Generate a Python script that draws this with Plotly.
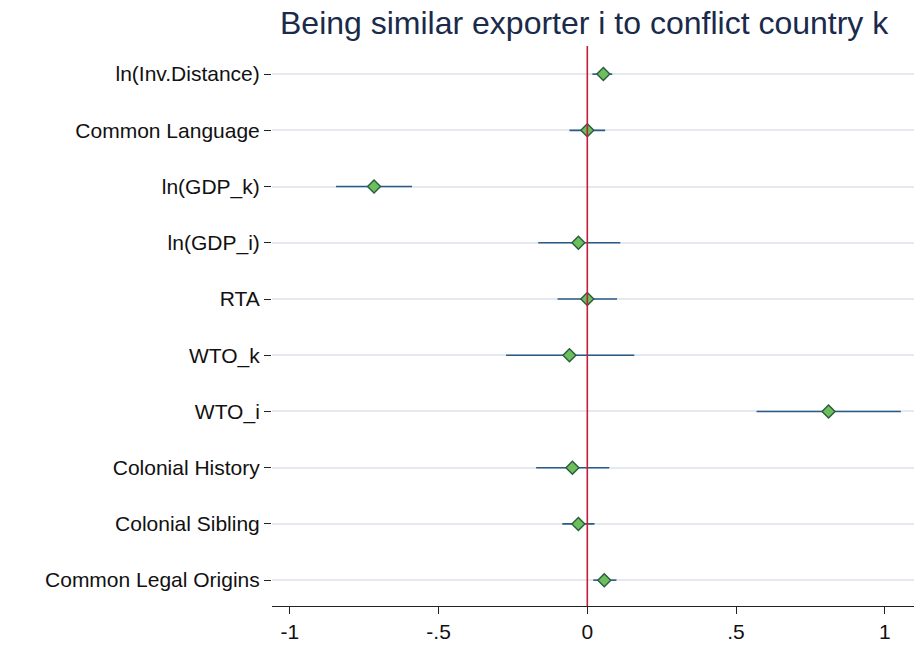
import plotly.graph_objects as go

labels = ["ln(Inv.Distance)", "Common Language", "ln(GDP_k)", "ln(GDP_i)", "RTA",
          "WTO_k", "WTO_i", "Colonial History", "Colonial Sibling", "Common Legal Origins"]
coef = [0.054, 0.0, -0.717, -0.03, 0.0, -0.06, 0.811, -0.05, -0.03, 0.057]
lo = [0.017, -0.06, -0.845, -0.165, -0.10, -0.273, 0.569, -0.172, -0.084, 0.02]
hi = [0.084, 0.06, -0.589, 0.111, 0.10, 0.158, 1.054, 0.074, 0.024, 0.098]
xticks = [-1, -0.5, 0, 0.5, 1]
xticklabels = ["-1", "-.5", "0", ".5", "1"]

fig = go.Figure()
for i, lab in enumerate(labels):
    fig.add_trace(go.Scatter(x=[lo[i], hi[i]], y=[lab, lab], mode="lines",
                             line=dict(color="#2b5a88", width=1.6), showlegend=False, hoverinfo="skip"))
fig.add_vline(x=0, line=dict(color="#c41e3a", width=1.6))
fig.add_trace(go.Scatter(x=coef, y=labels, mode="markers", showlegend=False,
                         marker=dict(symbol="diamond", size=10, color="#6cbf5a",
                                     line=dict(color="#2a5c40", width=1.4))))
fig.update_layout(
    width=922, height=653, plot_bgcolor="white", paper_bgcolor="white",
    margin=dict(l=264, r=14, t=38, b=55),
    font=dict(family="Liberation Sans, Arial", size=21, color="#111"),
    title=dict(text="Being similar exporter i to conflict country k", x=272/922, xanchor="left",
               y=0.995, yanchor="top", font=dict(size=32, color="#1a2a4a")),
)
fig.update_xaxes(range=[-1.06, 1.105], tickvals=xticks, ticktext=xticklabels, showgrid=False,
                 zeroline=False, showline=True, linecolor="#222", ticks="outside", ticklen=7,
                 tickcolor="#222", tickfont=dict(size=21), automargin=False)
fig.update_yaxes(categoryorder="array", categoryarray=labels, autorange=False, range=[9.46, -0.5],
                 showgrid=True, gridcolor="#e6eaee", gridwidth=1.5, showline=False,
                 ticks="outside", ticklen=7, tickcolor="#222", tickfont=dict(size=21), automargin=False)
fig.write_html("out.html")
